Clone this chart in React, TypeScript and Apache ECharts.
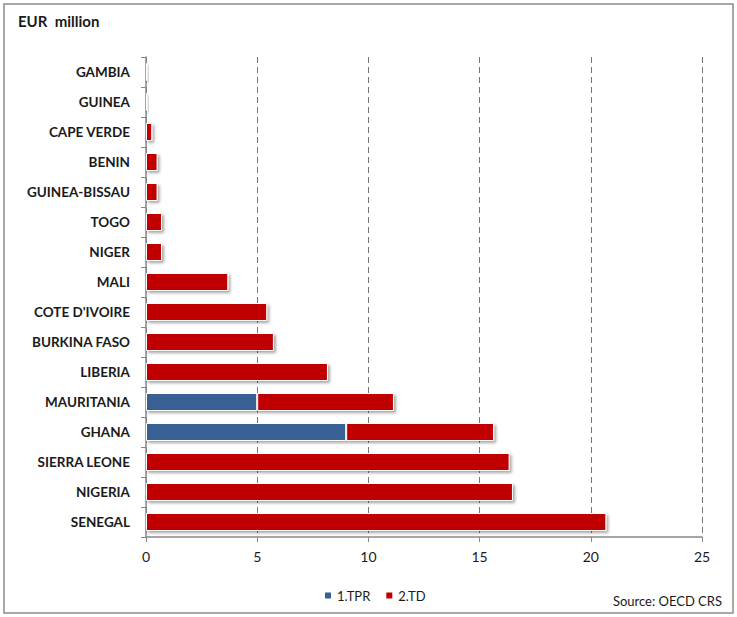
import React, { useEffect, useRef } from "react";
import * as echarts from "echarts";

const categories = [
  "GAMBIA", "GUINEA", "CAPE VERDE", "BENIN", "GUINEA-BISSAU", "TOGO", "NIGER", "MALI",
  "COTE D'IVOIRE", "BURKINA FASO", "LIBERIA", "MAURITANIA", "GHANA", "SIERRA LEONE", "NIGERIA", "SENEGAL",
];
const tprValues = [0, 0, 0, 0, 0, 0, 0, 0, 0, 0, 0, 5, 9, 0, 0, 0];
const tdValues = [0.08, 0.08, 0.28, 0.52, 0.52, 0.72, 0.72, 3.7, 5.45, 5.75, 8.18, 6.15, 6.65, 16.35, 16.5, 20.7];
const xTicks = [0, 5, 10, 15, 20, 25];

const FONT = "Lato, 'Open Sans', sans-serif";

export default function App() {
  const ref = useRef<HTMLDivElement>(null);
  useEffect(() => {
    if (!ref.current) return;
    const chart = echarts.init(ref.current, null, { renderer: "svg" });
    const barStyle = (color: string) => ({
      color,
      borderColor: "#ffffff",
      borderWidth: 1,
      shadowColor: "rgba(0,0,0,0.35)",
      shadowBlur: 3,
      shadowOffsetX: 2,
      shadowOffsetY: 2,
    });
    chart.setOption({
      animation: false,
      backgroundColor: "#ffffff",
      textStyle: { fontFamily: FONT },
      graphic: [
        {
          type: "rect",
          shape: { x: 4, y: 4, width: 729, height: 609 },
          style: { fill: "none", stroke: "#8c8c8c", lineWidth: 1.5 },
          silent: true,
        },
        {
          type: "text",
          left: 18,
          top: 13,
          style: { text: "EUR  million", font: `bold 15px ${FONT}`, fill: "#1a1a1a" },
        },
        {
          type: "text",
          right: 15,
          top: 594,
          style: { text: "Source: OECD CRS", font: `13px ${FONT}`, fill: "#1a1a1a" },
        },
      ],
      legend: {
        left: 318,
        top: 584,
        itemWidth: 8,
        itemHeight: 8,
        itemGap: 14,
        icon: "rect",
        textStyle: { fontSize: 13, color: "#1a1a1a", fontFamily: FONT },
        data: ["1.TPR", "2.TD"],
      },
      grid: { left: 146, right: 35, top: 57, bottom: 80, containLabel: false },
      xAxis: {
        type: "value",
        min: 0,
        max: 25,
        interval: 5,
        axisLine: { show: true, lineStyle: { color: "#888888", width: 1.5 } },
        axisTick: { show: true, length: 5, lineStyle: { color: "#888888" } },
        axisLabel: {
          color: "#1a1a1a",
          fontSize: 14,
          margin: 12,
          fontFamily: FONT,
          formatter: (v: number) => (xTicks.includes(v) ? String(v) : ""),
        },
        splitLine: { show: true, lineStyle: { color: "#777777", type: [6, 4], width: 1 } },
      },
      yAxis: {
        type: "category",
        inverse: true,
        data: categories,
        axisLine: { show: true, lineStyle: { color: "#888888", width: 1.5 } },
        axisTick: { show: true, length: 5, lineStyle: { color: "#888888" } },
        axisLabel: {
          color: "#1a1a1a",
          fontSize: 13.5,
          fontWeight: "bold",
          margin: 16,
          fontFamily: FONT,
        },
      },
      series: [
        {
          name: "1.TPR",
          type: "bar",
          stack: "total",
          barWidth: "60%",
          data: tprValues.map((v) => (v === 0 ? null : v)),
          itemStyle: barStyle("#376092"),
        },
        {
          name: "2.TD",
          type: "bar",
          stack: "total",
          barWidth: "60%",
          data: tdValues,
          itemStyle: barStyle("#C00000"),
        },
      ],
    });
    return () => chart.dispose();
  }, []);
  return (
    <div
      ref={ref}
      style={{ position: "absolute", left: 0, top: 0, width: 737, height: 617 }}
    />
  );
}
